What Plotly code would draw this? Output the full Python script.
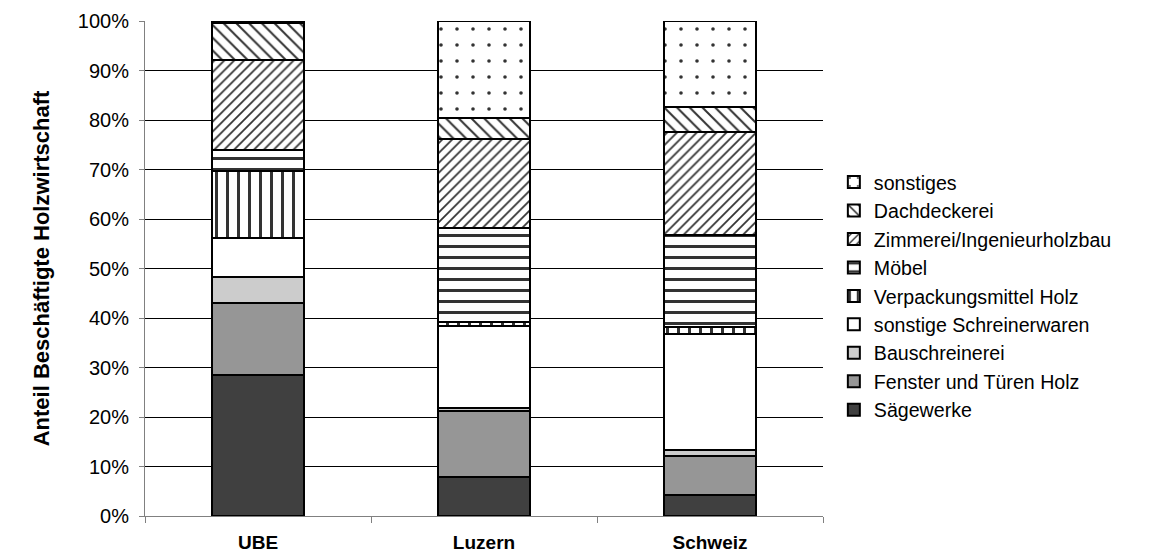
import plotly.graph_objects as go

categories = ["UBE", "Luzern", "Schweiz"]

saegewerke = [28.5, 7.9, 4.2]
fenster = [14.5, 13.3, 7.9]
bauschreinerei = [5.3, 0.7, 1.2]
sonst_schreiner = [7.9, 16.4, 23.5]
verpackung = [13.5, 0.8, 1.4]
moebel = [4.2, 19.1, 18.6]
zimmerei = [18.2, 18.0, 20.8]
dachdeckerei = [7.5, 4.2, 5.0]
sonstiges = [0.4, 19.6, 17.4]

series = [
    ("Sägewerke", saegewerke, "#404040", ""),
    ("Fenster und Türen Holz", fenster, "#969696", ""),
    ("Bauschreinerei", bauschreinerei, "#cccccc", ""),
    ("sonstige Schreinerwaren", sonst_schreiner, "#ffffff", ""),
    ("Verpackungsmittel Holz", verpackung, "#ffffff", "|"),
    ("Möbel", moebel, "#ffffff", "-"),
    ("Zimmerei/Ingenieurholzbau", zimmerei, "#ffffff", "/"),
    ("Dachdeckerei", dachdeckerei, "#ffffff", "\\"),
    ("sonstiges", sonstiges, "#ffffff", "."),
]

sizes = {"|": 11, "-": 11, "/": 7, "\\": 9, ".": 16}
solid = {"|": 0.27, "-": 0.27, "/": 0.25, "\\": 0.22, ".": 0.04}

FONT = "Arial, Liberation Sans, sans-serif"

fig = go.Figure()
for name, vals, color, shape in series:
    marker = dict(color=color, line=dict(color="black", width=2))
    if shape:
        marker["pattern"] = dict(shape=shape, fgcolor="#333333", bgcolor=color, fgopacity=1,
                                 size=sizes[shape], solidity=solid[shape], fillmode="replace")
    fig.add_trace(go.Bar(x=categories, y=vals, name=name, marker=marker, width=0.41))

fig.update_layout(
    barmode="stack",
    width=1153, height=554,
    margin=dict(l=145, r=330, t=21, b=38, autoexpand=False),
    paper_bgcolor="white", plot_bgcolor="white",
    font=dict(family=FONT, size=20, color="black"),
    showlegend=True,
    legend=dict(traceorder="reversed", x=1.016, y=0.444, xanchor="left", yanchor="middle",
                font=dict(size=19.6), tracegroupgap=0, itemwidth=30),
)
fig.update_xaxes(
    automargin=False,
    showline=True, linecolor="#808080", linewidth=1,
    ticks="outside", tickson="boundaries", ticklen=6, tickcolor="#808080",
    ticklabelstandoff=9,
    tickfont=dict(size=19, family=FONT, weight="bold"),
)
fig.update_yaxes(
    automargin=False,
    range=[0, 100], dtick=10, ticksuffix="%",
    showline=True, linecolor="#808080", linewidth=1,
    ticks="outside", ticklen=5, tickcolor="#808080",
    ticklabelstandoff=6,
    showgrid=True, gridcolor="black", gridwidth=1,
    tickfont=dict(size=20),
    title=dict(text="<b>Anteil Beschäftigte Holzwirtschaft</b>", font=dict(size=22), standoff=22),
)

fig.write_html("out.html", config={"displayModeBar": False},
               post_script="document.body.style.margin='0';")
